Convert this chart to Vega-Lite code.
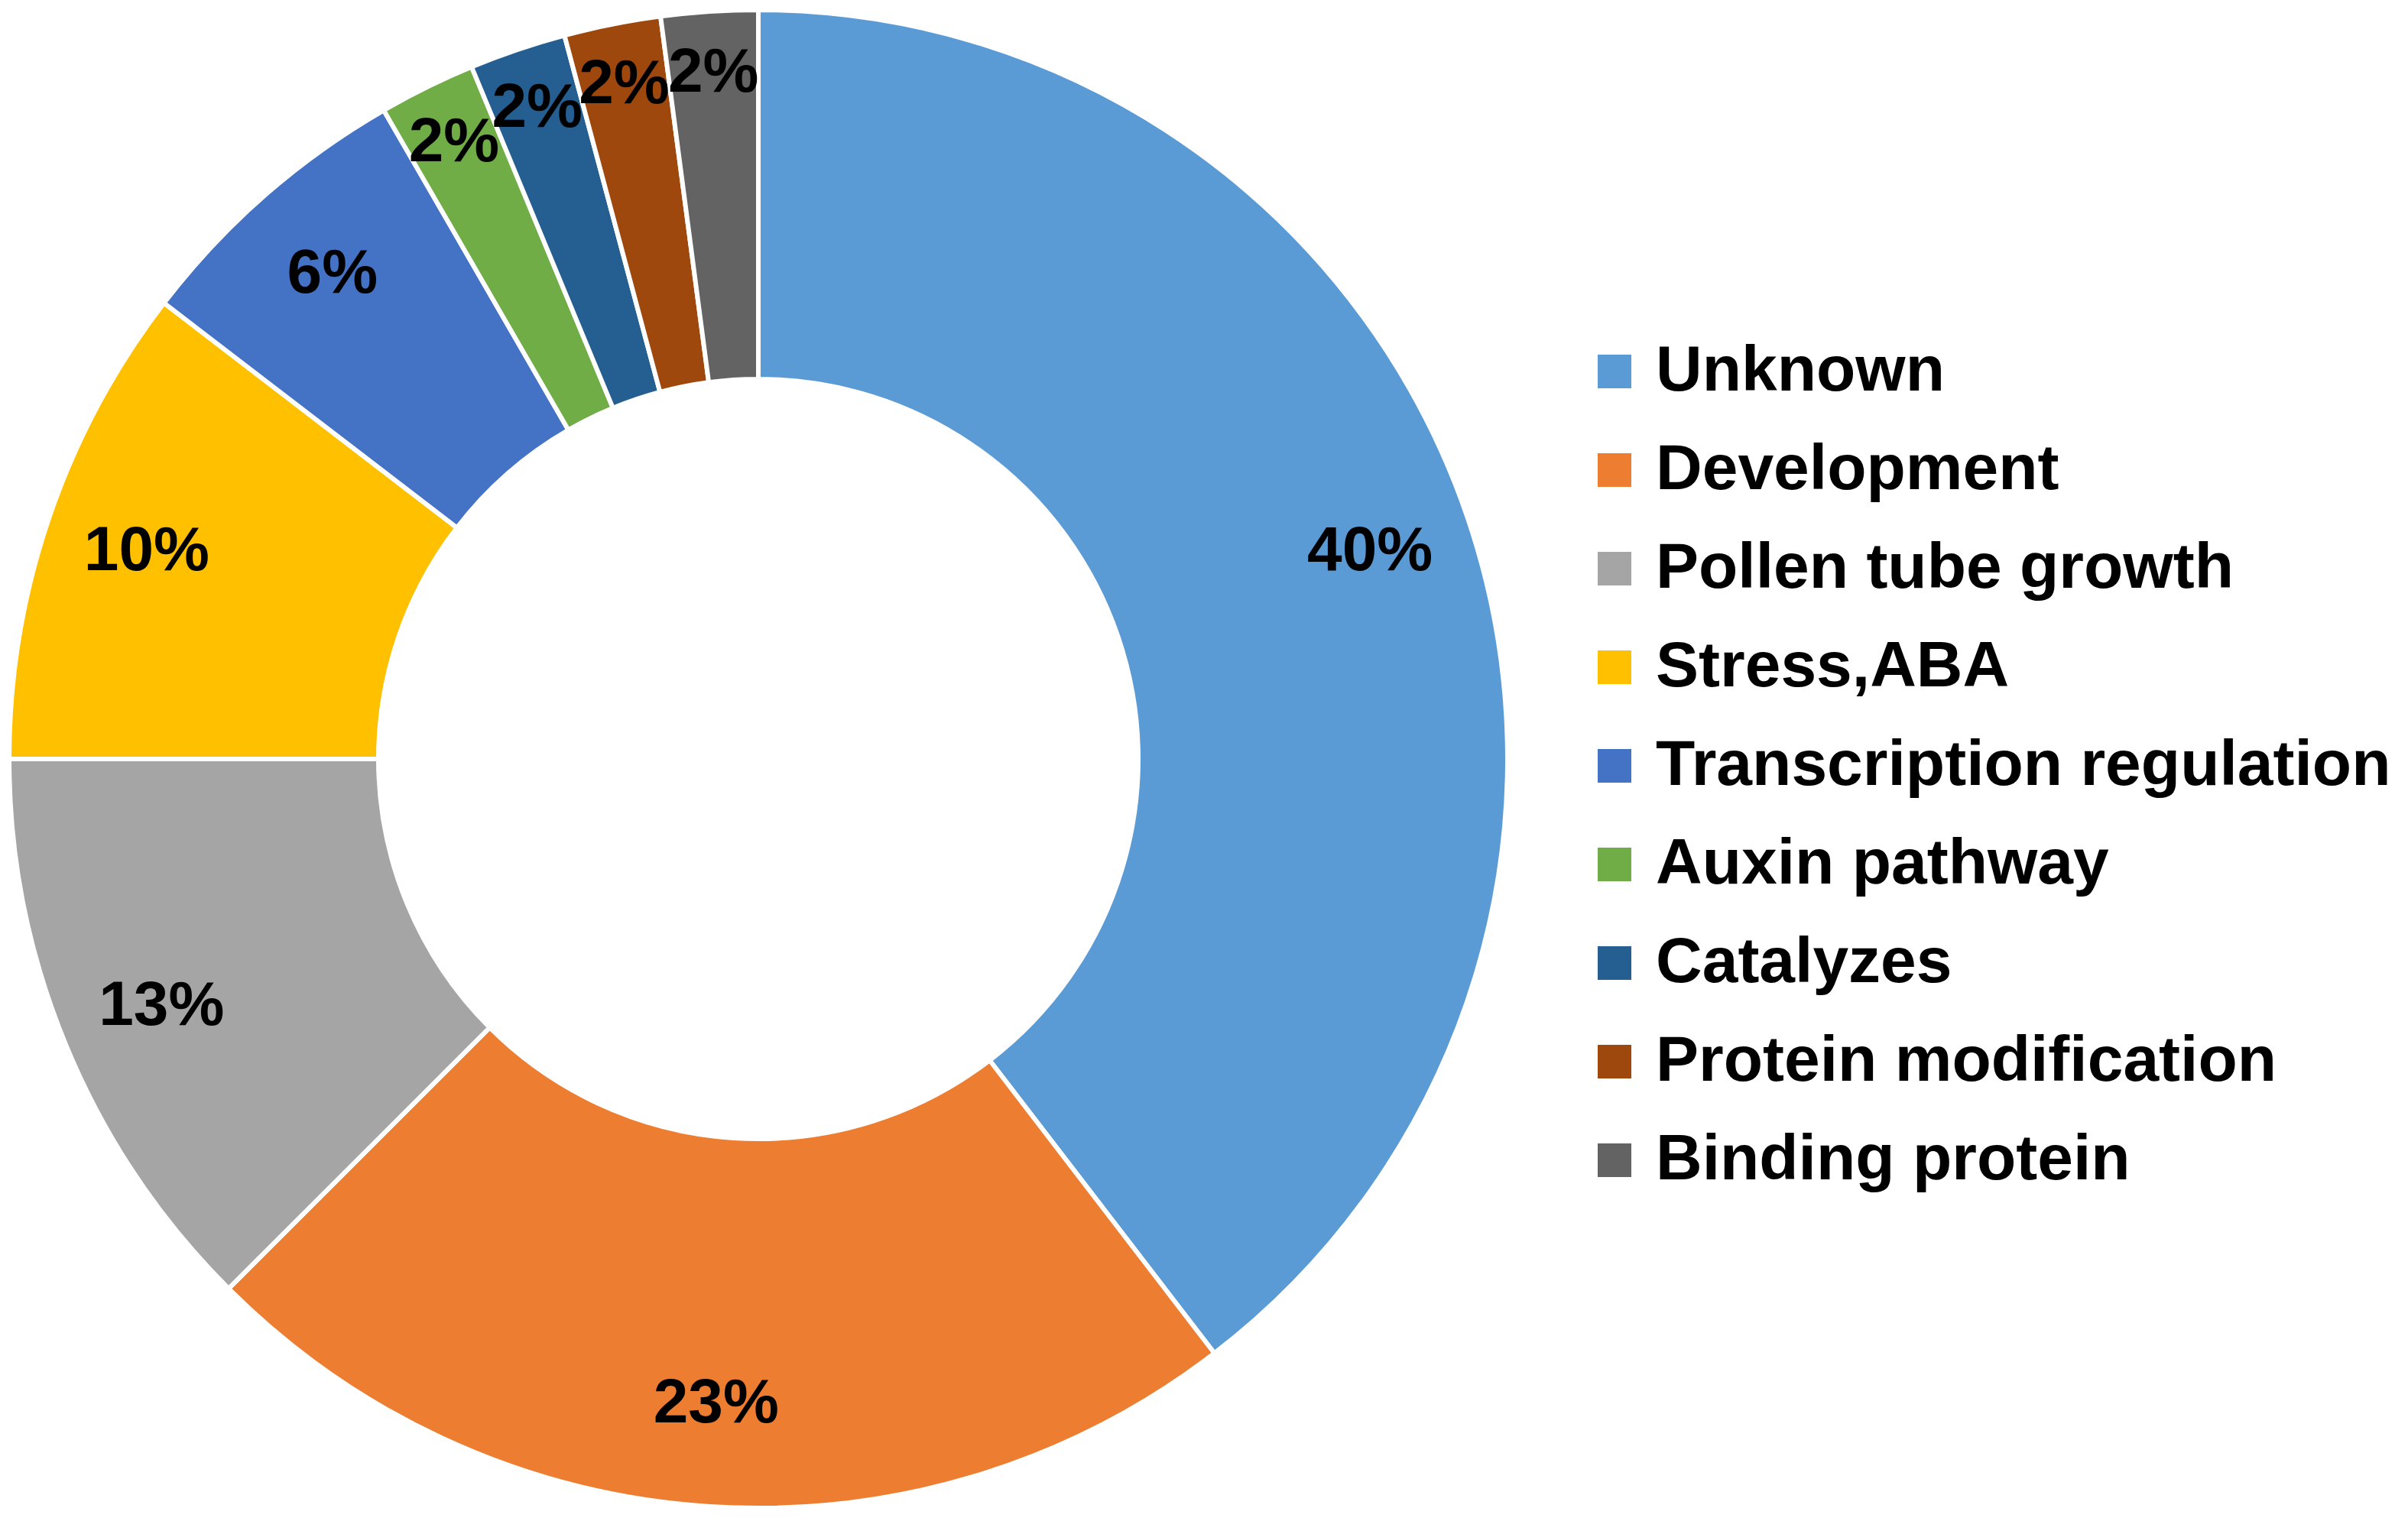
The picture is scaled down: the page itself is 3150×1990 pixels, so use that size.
{
  "$schema": "https://vega.github.io/schema/vega-lite/v6.json",
  "width": 1980,
  "height": 1986,
  "padding": 0,
  "background": "white",
  "config": {
    "view": {"stroke": null},
    "font": "Liberation Sans"
  },
  "data": {
    "values": [
      {"category": "Unknown", "count": 19, "label": "40%", "rank": 1},
      {"category": "Development", "count": 11, "label": "23%", "rank": 2},
      {"category": "Pollen tube growth", "count": 6, "label": "13%", "rank": 3},
      {"category": "Stress,ABA", "count": 5, "label": "10%", "rank": 4},
      {"category": "Transcription regulation", "count": 3, "label": "6%", "rank": 5},
      {"category": "Auxin pathway", "count": 1, "label": "2%", "rank": 6},
      {"category": "Catalyzes", "count": 1, "label": "2%", "rank": 7},
      {"category": "Protein modification", "count": 1, "label": "2%", "rank": 8},
      {"category": "Binding protein", "count": 1, "label": "2%", "rank": 9}
    ]
  },
  "encoding": {
    "theta": {"field": "count", "type": "quantitative", "stack": true},
    "order": {"field": "rank", "type": "quantitative"}
  },
  "layer": [
    {
      "mark": {"type": "arc", "outerRadius": 980, "innerRadius": 497, "stroke": "white", "strokeWidth": 6},
      "encoding": {
        "color": {
          "field": "category",
          "type": "nominal",
          "sort": null,
          "scale": {
            "domain": ["Unknown", "Development", "Pollen tube growth", "Stress,ABA", "Transcription regulation", "Auxin pathway", "Catalyzes", "Protein modification", "Binding protein"],
            "range": ["#5B9BD5", "#ED7D31", "#A5A5A5", "#FFC000", "#4472C4", "#70AD47", "#255E91", "#9E480E", "#636363"]
          },
          "legend": {
            "title": null,
            "orient": "none",
            "legendX": 2068,
            "legendY": 444,
            "padding": 0,
            "symbolType": "square",
            "symbolSize": 1936,
            "symbolStrokeWidth": 0,
            "labelFont": "Liberation Sans",
            "labelFontSize": 84,
            "labelFontWeight": "bold",
            "labelColor": "black",
            "labelOffset": 12,
            "labelLimit": 2000,
            "rowPadding": 45
          }
        }
      }
    },
    {
      "mark": {"type": "text", "radius": 845, "fontSize": 82, "fontWeight": "bold", "font": "Liberation Sans", "fill": "black", "align": "center", "baseline": "middle"},
      "encoding": {
        "detail": {"field": "category", "type": "nominal"},
        "text": {"condition": {"test": "datum.count > 1", "field": "label"}, "value": ""}
      }
    },
    {
      "mark": {"type": "text", "radius": 900, "fontSize": 82, "fontWeight": "bold", "font": "Liberation Sans", "fill": "black", "align": "center", "baseline": "middle"},
      "encoding": {
        "detail": {"field": "category", "type": "nominal"},
        "text": {"condition": {"test": "datum.count == 1", "field": "label"}, "value": ""}
      }
    }
  ]
}
